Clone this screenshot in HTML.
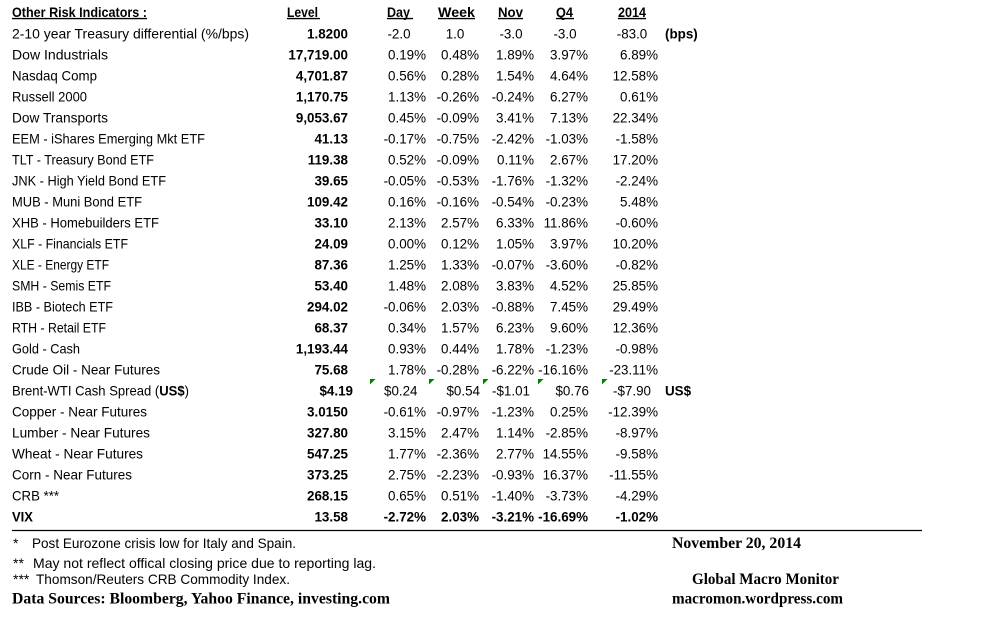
<!DOCTYPE html>
<html>
<head>
<meta charset="utf-8">
<style>
html,body{margin:0;padding:0;background:#fff;}
svg{display:block;}
svg text{font-family:"Liberation Sans",Arial,sans-serif;fill:#000;}
.l{font-size:14px;}
.n{font-size:13.4px;text-anchor:end;}
.s{font-size:13.4px;}
.c{font-size:13.4px;text-anchor:middle;}
.b{font-weight:bold;}
.h{font-size:14px;font-weight:bold;}
.f{font-size:14px;}
.sr{font-family:"Liberation Serif","Times New Roman",serif !important;font-weight:bold;font-size:15.5px;}
</style>
</head>
<body>
<svg width="981" height="629" viewBox="0 0 981 629" xmlns="http://www.w3.org/2000/svg">
<rect width="981" height="629" fill="#fff"/>

<!-- Header -->
<text class="h" x="12" y="16.8" textLength="135" lengthAdjust="spacingAndGlyphs">Other Risk Indicators :</text>
<text class="h" x="287" y="16.8" textLength="31" lengthAdjust="spacingAndGlyphs">Level</text>
<text class="h" x="387" y="16.8" textLength="23" lengthAdjust="spacingAndGlyphs">Day</text>
<text class="h" x="438" y="16.8" textLength="37" lengthAdjust="spacingAndGlyphs">Week</text>
<text class="h" x="498" y="16.8" textLength="25" lengthAdjust="spacingAndGlyphs">Nov</text>
<text class="h" x="556" y="16.8" textLength="17" lengthAdjust="spacingAndGlyphs">Q4</text>
<text class="h" x="618" y="16.8" textLength="28" lengthAdjust="spacingAndGlyphs">2014</text>
<g stroke="#000" stroke-width="1.4">
<line x1="12" y1="18.6" x2="147" y2="18.6"/>
<line x1="287" y1="18.6" x2="320" y2="18.6"/>
<line x1="387" y1="18.6" x2="413" y2="18.6"/>
<line x1="438" y1="18.6" x2="475" y2="18.6"/>
<line x1="498" y1="18.6" x2="523" y2="18.6"/>
<line x1="556" y1="18.6" x2="574" y2="18.6"/>
<line x1="618" y1="18.6" x2="646" y2="18.6"/>
</g>

<!-- Row 0 -->
<g transform="translate(0,38.7)">
<text class="l" x="12" textLength="237" lengthAdjust="spacingAndGlyphs">2-10 year Treasury differential (%/bps)</text>
<text class="n b" x="348">1.8200</text>
<text class="c" x="399">-2.0</text>
<text class="c" x="455">1.0</text>
<text class="c" x="511">-3.0</text>
<text class="c" x="565">-3.0</text>
<text class="c" x="632">-83.0</text>
<text class="s b" x="665">(bps)</text>
</g>

<g transform="translate(0,59.7)">
<text class="l" x="12" textLength="96" lengthAdjust="spacingAndGlyphs">Dow Industrials</text>
<text class="n b" x="348">17,719.00</text>
<text class="n" x="426">0.19%</text><text class="n" x="479">0.48%</text><text class="n" x="534">1.89%</text><text class="n" x="588">3.97%</text><text class="n" x="658">6.89%</text>
</g>

<g transform="translate(0,80.7)">
<text class="l" x="12" textLength="85" lengthAdjust="spacingAndGlyphs">Nasdaq Comp</text>
<text class="n b" x="348">4,701.87</text>
<text class="n" x="426">0.56%</text><text class="n" x="479">0.28%</text><text class="n" x="534">1.54%</text><text class="n" x="588">4.64%</text><text class="n" x="658">12.58%</text>
</g>

<g transform="translate(0,101.7)">
<text class="l" x="12" textLength="75" lengthAdjust="spacingAndGlyphs">Russell 2000</text>
<text class="n b" x="348">1,170.75</text>
<text class="n" x="426">1.13%</text><text class="n" x="479">-0.26%</text><text class="n" x="534">-0.24%</text><text class="n" x="588">6.27%</text><text class="n" x="658">0.61%</text>
</g>

<g transform="translate(0,122.7)">
<text class="l" x="12" textLength="96" lengthAdjust="spacingAndGlyphs">Dow Transports</text>
<text class="n b" x="348">9,053.67</text>
<text class="n" x="426">0.45%</text><text class="n" x="479">-0.09%</text><text class="n" x="534">3.41%</text><text class="n" x="588">7.13%</text><text class="n" x="658">22.34%</text>
</g>

<g transform="translate(0,143.7)">
<text class="l" x="12" textLength="193" lengthAdjust="spacingAndGlyphs">EEM - iShares Emerging Mkt ETF</text>
<text class="n b" x="348">41.13</text>
<text class="n" x="426">-0.17%</text><text class="n" x="479">-0.75%</text><text class="n" x="534">-2.42%</text><text class="n" x="588">-1.03%</text><text class="n" x="658">-1.58%</text>
</g>

<g transform="translate(0,164.7)">
<text class="l" x="12" textLength="142" lengthAdjust="spacingAndGlyphs">TLT - Treasury Bond ETF</text>
<text class="n b" x="348">119.38</text>
<text class="n" x="426">0.52%</text><text class="n" x="479">-0.09%</text><text class="n" x="534">0.11%</text><text class="n" x="588">2.67%</text><text class="n" x="658">17.20%</text>
</g>

<g transform="translate(0,185.7)">
<text class="l" x="12" textLength="154" lengthAdjust="spacingAndGlyphs">JNK - High Yield Bond ETF</text>
<text class="n b" x="348">39.65</text>
<text class="n" x="426">-0.05%</text><text class="n" x="479">-0.53%</text><text class="n" x="534">-1.76%</text><text class="n" x="588">-1.32%</text><text class="n" x="658">-2.24%</text>
</g>

<g transform="translate(0,206.7)">
<text class="l" x="12" textLength="130" lengthAdjust="spacingAndGlyphs">MUB - Muni Bond ETF</text>
<text class="n b" x="348">109.42</text>
<text class="n" x="426">0.16%</text><text class="n" x="479">-0.16%</text><text class="n" x="534">-0.54%</text><text class="n" x="588">-0.23%</text><text class="n" x="658">5.48%</text>
</g>

<g transform="translate(0,227.7)">
<text class="l" x="12" textLength="147" lengthAdjust="spacingAndGlyphs">XHB - Homebuilders ETF</text>
<text class="n b" x="348">33.10</text>
<text class="n" x="426">2.13%</text><text class="n" x="479">2.57%</text><text class="n" x="534">6.33%</text><text class="n" x="588">11.86%</text><text class="n" x="658">-0.60%</text>
</g>

<g transform="translate(0,248.7)">
<text class="l" x="12" textLength="116" lengthAdjust="spacingAndGlyphs">XLF - Financials ETF</text>
<text class="n b" x="348">24.09</text>
<text class="n" x="426">0.00%</text><text class="n" x="479">0.12%</text><text class="n" x="534">1.05%</text><text class="n" x="588">3.97%</text><text class="n" x="658">10.20%</text>
</g>

<g transform="translate(0,269.7)">
<text class="l" x="12" textLength="97" lengthAdjust="spacingAndGlyphs">XLE - Energy ETF</text>
<text class="n b" x="348">87.36</text>
<text class="n" x="426">1.25%</text><text class="n" x="479">1.33%</text><text class="n" x="534">-0.07%</text><text class="n" x="588">-3.60%</text><text class="n" x="658">-0.82%</text>
</g>

<g transform="translate(0,290.7)">
<text class="l" x="12" textLength="99" lengthAdjust="spacingAndGlyphs">SMH - Semis ETF</text>
<text class="n b" x="348">53.40</text>
<text class="n" x="426">1.48%</text><text class="n" x="479">2.08%</text><text class="n" x="534">3.83%</text><text class="n" x="588">4.52%</text><text class="n" x="658">25.85%</text>
</g>

<g transform="translate(0,311.7)">
<text class="l" x="12" textLength="101" lengthAdjust="spacingAndGlyphs">IBB - Biotech ETF</text>
<text class="n b" x="348">294.02</text>
<text class="n" x="426">-0.06%</text><text class="n" x="479">2.03%</text><text class="n" x="534">-0.88%</text><text class="n" x="588">7.45%</text><text class="n" x="658">29.49%</text>
</g>

<g transform="translate(0,332.7)">
<text class="l" x="12" textLength="94" lengthAdjust="spacingAndGlyphs">RTH - Retail ETF</text>
<text class="n b" x="348">68.37</text>
<text class="n" x="426">0.34%</text><text class="n" x="479">1.57%</text><text class="n" x="534">6.23%</text><text class="n" x="588">9.60%</text><text class="n" x="658">12.36%</text>
</g>

<g transform="translate(0,353.7)">
<text class="l" x="12" textLength="68" lengthAdjust="spacingAndGlyphs">Gold - Cash</text>
<text class="n b" x="348">1,193.44</text>
<text class="n" x="426">0.93%</text><text class="n" x="479">0.44%</text><text class="n" x="534">1.78%</text><text class="n" x="588">-1.23%</text><text class="n" x="658">-0.98%</text>
</g>

<g transform="translate(0,374.7)">
<text class="l" x="12" textLength="148" lengthAdjust="spacingAndGlyphs">Crude Oil - Near Futures</text>
<text class="n b" x="348">75.68</text>
<text class="n" x="426">1.78%</text><text class="n" x="479">-0.28%</text><text class="n" x="534">-6.22%</text><text class="n" x="588">-16.16%</text><text class="n" x="658">-23.11%</text>
</g>

<g transform="translate(0,395.7)">
<text class="l" x="12" textLength="177" lengthAdjust="spacingAndGlyphs">Brent-WTI Cash Spread (<tspan font-weight="bold">US$</tspan>)</text>
<text class="n b" x="353">$4.19</text>
<text class="s" x="384">$0.24</text>
<text class="n" x="480">$0.54</text>
<text class="s" x="492">-$1.01</text>
<text class="n" x="589">$0.76</text>
<text class="s" x="613">-$7.90</text>
<text class="s b" x="665">US$</text>
</g>
<g fill="#008000">
<polygon points="370,379 375.5,379 370,384.5"/>
<polygon points="429,379 434.5,379 429,384.5"/>
<polygon points="483,379 488.5,379 483,384.5"/>
<polygon points="538,379 543.5,379 538,384.5"/>
<polygon points="602,379 607.5,379 602,384.5"/>
</g>

<g transform="translate(0,416.7)">
<text class="l" x="12" textLength="135" lengthAdjust="spacingAndGlyphs">Copper - Near Futures</text>
<text class="n b" x="348">3.0150</text>
<text class="n" x="426">-0.61%</text><text class="n" x="479">-0.97%</text><text class="n" x="534">-1.23%</text><text class="n" x="588">0.25%</text><text class="n" x="658">-12.39%</text>
</g>

<g transform="translate(0,437.7)">
<text class="l" x="12" textLength="138" lengthAdjust="spacingAndGlyphs">Lumber - Near Futures</text>
<text class="n b" x="348">327.80</text>
<text class="n" x="426">3.15%</text><text class="n" x="479">2.47%</text><text class="n" x="534">1.14%</text><text class="n" x="588">-2.85%</text><text class="n" x="658">-8.97%</text>
</g>

<g transform="translate(0,458.7)">
<text class="l" x="12" textLength="131" lengthAdjust="spacingAndGlyphs">Wheat - Near Futures</text>
<text class="n b" x="348">547.25</text>
<text class="n" x="426">1.77%</text><text class="n" x="479">-2.36%</text><text class="n" x="534">2.77%</text><text class="n" x="588">14.55%</text><text class="n" x="658">-9.58%</text>
</g>

<g transform="translate(0,479.7)">
<text class="l" x="12" textLength="120" lengthAdjust="spacingAndGlyphs">Corn - Near Futures</text>
<text class="n b" x="348">373.25</text>
<text class="n" x="426">2.75%</text><text class="n" x="479">-2.23%</text><text class="n" x="534">-0.93%</text><text class="n" x="588">16.37%</text><text class="n" x="658">-11.55%</text>
</g>

<g transform="translate(0,500.7)">
<text class="l" x="12" textLength="47" lengthAdjust="spacingAndGlyphs">CRB ***</text>
<text class="n b" x="348">268.15</text>
<text class="n" x="426">0.65%</text><text class="n" x="479">0.51%</text><text class="n" x="534">-1.40%</text><text class="n" x="588">-3.73%</text><text class="n" x="658">-4.29%</text>
</g>

<g transform="translate(0,521.7)">
<text class="l b" x="12" textLength="21" lengthAdjust="spacingAndGlyphs">VIX</text>
<text class="n b" x="348">13.58</text>
<text class="n b" x="426">-2.72%</text><text class="n b" x="479">2.03%</text><text class="n b" x="534">-3.21%</text><text class="n b" x="588">-16.69%</text><text class="n b" x="658">-1.02%</text>
</g>

<!-- Footer line -->
<line x1="12" y1="530.5" x2="922" y2="530.5" stroke="#000" stroke-width="1.3"/>

<!-- Footnotes -->
<text class="f" x="13" y="548">*</text>
<text class="f" x="32" y="548" textLength="264" lengthAdjust="spacingAndGlyphs">Post Eurozone crisis low for Italy and Spain.</text>
<text class="f" x="13" y="568">**</text>
<text class="f" x="33" y="568" textLength="343" lengthAdjust="spacingAndGlyphs">May not reflect offical closing price due to reporting lag.</text>
<text class="f" x="13" y="584">***</text>
<text class="f" x="36" y="584" textLength="254" lengthAdjust="spacingAndGlyphs">Thomson/Reuters CRB Commodity Index.</text>
<text class="sr" x="12" y="603.5" textLength="378" lengthAdjust="spacingAndGlyphs">Data Sources:  Bloomberg,  Yahoo Finance, investing.com</text>

<text class="sr" x="672" y="548" textLength="129" lengthAdjust="spacingAndGlyphs">November 20, 2014</text>
<text class="sr" x="692" y="584" textLength="147" lengthAdjust="spacingAndGlyphs">Global Macro Monitor</text>
<text class="sr" x="672" y="603.5" textLength="171" lengthAdjust="spacingAndGlyphs">macromon.wordpress.com</text>
</svg>
</body>
</html>
